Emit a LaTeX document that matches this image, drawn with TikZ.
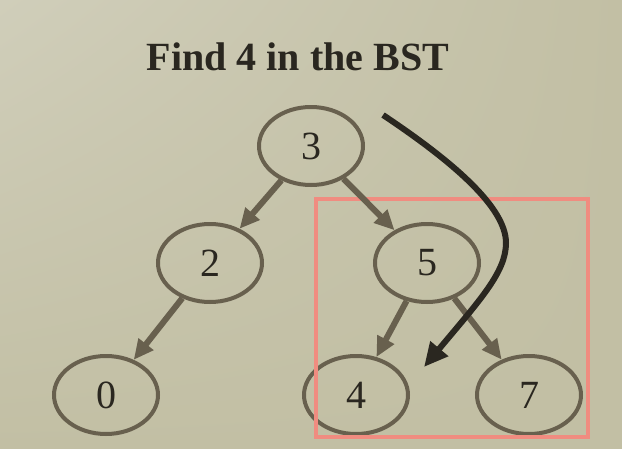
\documentclass[tikz,border=0pt]{standalone}
\usepackage{fontspec}
\setmainfont{Liberation Serif}
\usetikzlibrary{shapes.geometric,arrows.meta,shadings}
\definecolor{bgA}{RGB}{208,206,186}
\definecolor{bgB}{RGB}{194,191,164}
\definecolor{nodeline}{RGB}{104,96,78}
\definecolor{ink}{RGB}{42,39,32}
\definecolor{boxred}{RGB}{240,140,128}
\begin{document}
\begin{tikzpicture}[x=1pt,y=-1pt,
  bstnode/.style={ellipse,draw=nodeline,line width=4pt,minimum width=104pt,minimum height=78pt,inner sep=0pt,font=\fontsize{40}{40}\selectfont,text=ink},
  treeedge/.style={draw=nodeline,line width=6pt,-{Triangle[length=20pt,width=18pt]}},
  searcharrow/.style={draw=ink,line width=6pt,-{Triangle[length=24pt,width=22pt]}},
  titletext/.style={font=\fontsize{40}{40}\selectfont\bfseries,text=ink,inner sep=0pt},
  focusbox/.style={draw=boxred,line width=3.5pt}]
\shade[upper left=bgA, upper right=bgB, lower left=bgB, lower right=bgB] (0,0) rectangle (622,448);
\useasboundingbox (0,0) rectangle (622,448);
\node[titletext,anchor=base] (title) at (298,70) {Find 4 in the BST};
\node[bstnode] (n3) at (311,146) {3};
\node[bstnode] (n2) at (210,263) {2};
\node[bstnode] (n5) at (427,263) {5};
\node[bstnode] (n0) at (106,395) {0};
\node[bstnode] (n4) at (356,395) {4};
\node[bstnode] (n7) at (529,395) {7};
\coordinate (boxA) at (316,199);
\coordinate (boxB) at (588,437);
\draw[focusbox] (boxA) rectangle (boxB);
\draw[treeedge] (n3) -- (n2);
\draw[treeedge] (n3) -- (n5);
\draw[treeedge] (n2) -- (n0);
\draw[treeedge] (n5) -- (n4);
\draw[treeedge] (n5) -- (n7);
\coordinate (sA) at (383,115);
\coordinate (sB) at (506,243);
\coordinate (sC) at (424,367);
\draw[searcharrow] (sA) .. controls (455,163) and (506,208) .. (sB) .. controls (506,272) and (480,300) .. (sC);
\end{tikzpicture}
\end{document}
